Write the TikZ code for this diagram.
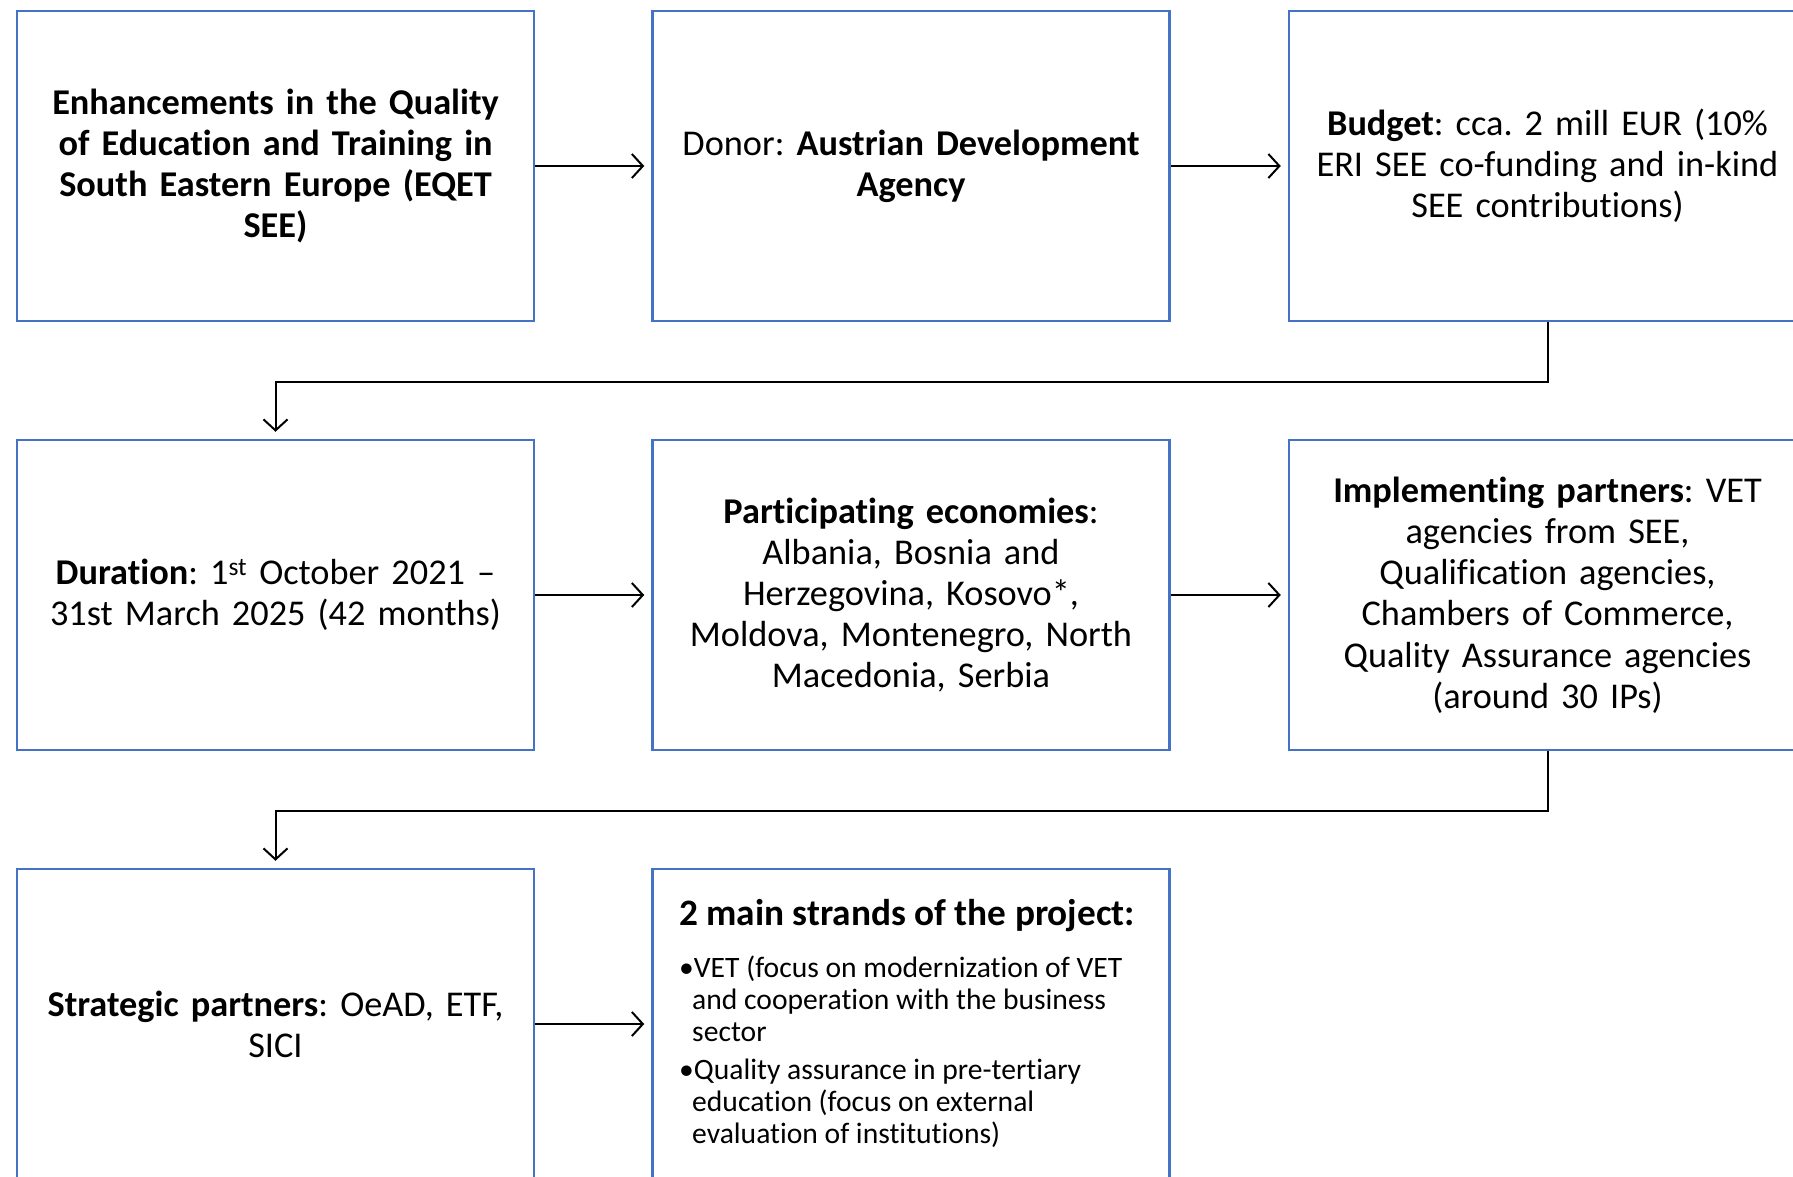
\documentclass[tikz,border=0pt]{standalone}
\usepackage{fontspec}
\setmainfont{Carlito}[Ligatures=NoCommon]
\usetikzlibrary{arrows.meta}
\definecolor{boxblue}{HTML}{4472C4}
\frenchspacing
\begin{document}
\frenchspacing
\begin{tikzpicture}[x=1pt,y=-1pt,
  box/.style={draw=boxblue, line width=2.5pt, fill=white, minimum width=517pt, minimum height=310pt,
    inner sep=0pt, text width=505pt, align=center, font=\fontsize{36.3}{41.2}\selectfont},
  conn/.style={line width=2pt, -{Straight Barb[length=11pt,width=24pt,line width=2pt]}, shorten >=7pt},
  bul/.style={anchor=north west, inner sep=0pt, align=left, font=\fontsize{29.6}{32}\selectfont}
]
\useasboundingbox (0,0) rectangle (1793,1176);
\clip (0,0) rectangle (1793,1176);

% row 1
\node[box] (b1) at (275.5,166) {\textbf{Enhancements in the Quality\\ of Education and Training in\\ South Eastern Europe (EQET\\ SEE)}};
\node[box] (b2) at (911,166) {Donor: \textbf{Austrian Development\\ Agency}};
\node[box] (b3) at (1547.5,166) {\textbf{Budget}: cca. 2 mill EUR (10\%\\ ERI SEE co-funding and in-kind\\ SEE contributions)};

% row 2
\node[box] (b4) at (275.5,595) {\textbf{Duration}: 1\textsuperscript{st} October 2021 –\\ 31st March 2025 (42 months)};
\node[box] (b5) at (911,595) {\textbf{Participating economies}:\\ Albania, Bosnia and\\ Herzegovina, Kosovo*,\\ Moldova, Montenegro, North\\ Macedonia, Serbia};
\node[box] (b6) at (1547.5,595) {\textbf{Implementing partners}: VET\\ agencies from SEE,\\ Qualification agencies,\\ Chambers of Commerce,\\ Quality Assurance agencies\\ (around 30 IPs)};

% row 3
\node[box] (b7) at (275.5,1024) {\textbf{Strategic partners}: OeAD, ETF,\\ SICI};
\node[box] (b8) at (911,1024) {};
\node[anchor=north west, inner sep=0pt, font=\fontsize{37.3}{42}\selectfont\bfseries] (strands) at (679,899) {2 main strands of the project:};
\node[bul] (items) at (679,956) {•VET (focus on modernization of VET\\
\hspace*{13pt}and cooperation with the business\\
\hspace*{13pt}sector\\[6pt]
•Quality assurance in pre-tertiary\\
\hspace*{13pt}education (focus on external\\
\hspace*{13pt}evaluation of institutions)};

% connectors
\draw[conn] (b1.east) -- (b2.west);
\draw[conn] (b2.east) -- (b3.west);
\draw[conn] (b4.east) -- (b5.west);
\draw[conn] (b5.east) -- (b6.west);
\draw[conn] (b7.east) -- (b8.west);
\draw[conn] (b3.south) -- ++(0,60) -| (b4.north);
\draw[conn] (b6.south) -- ++(0,60) -| (b7.north);
\end{tikzpicture}
\end{document}
